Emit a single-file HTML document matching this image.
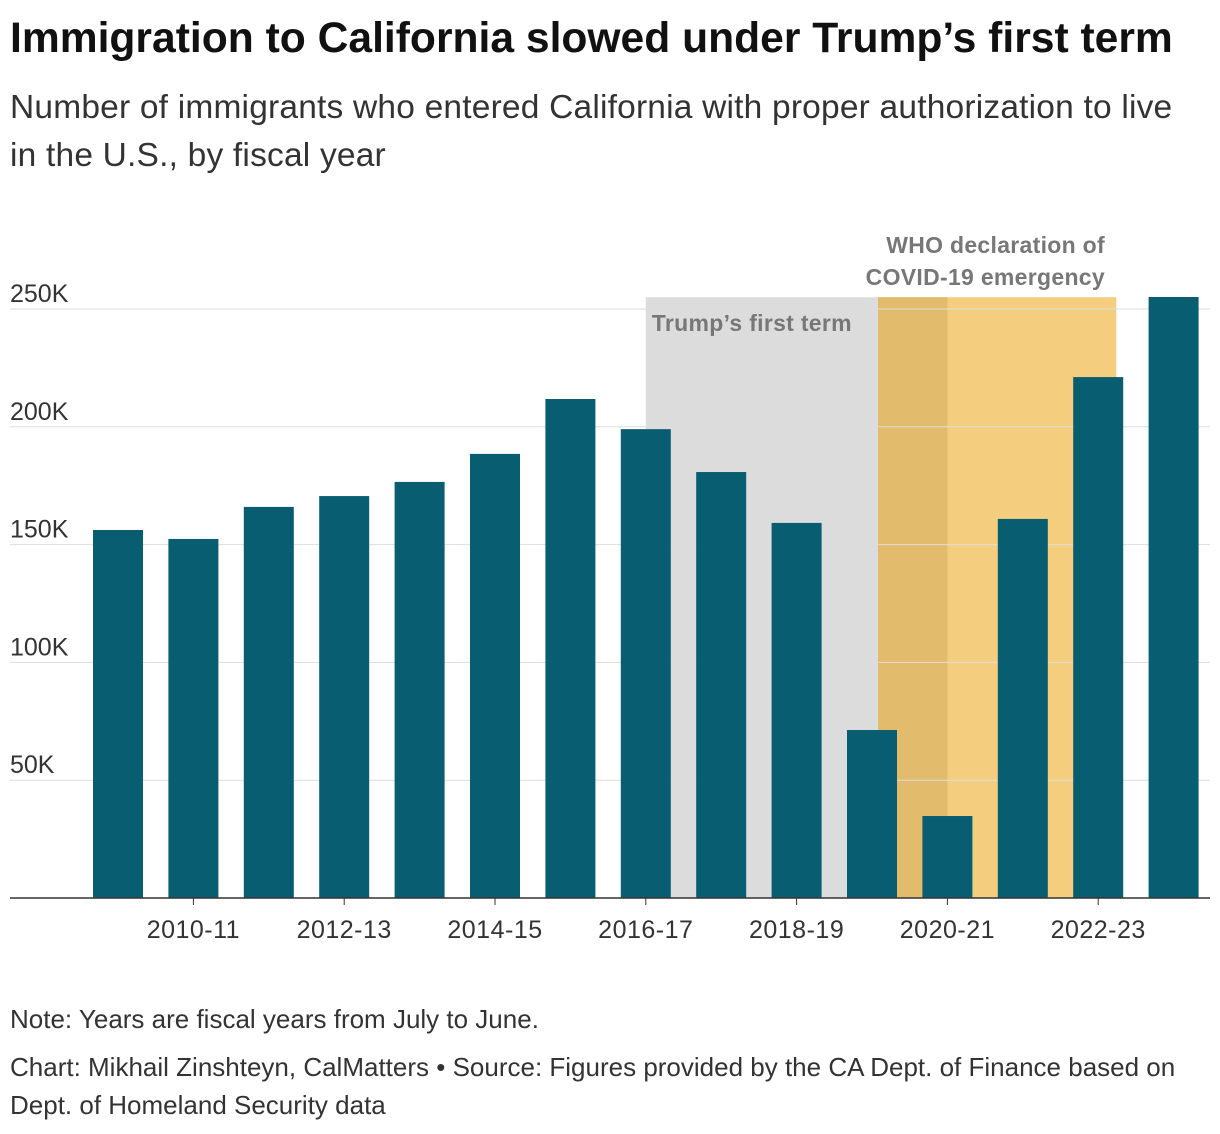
<!DOCTYPE html>
<html><head><meta charset="utf-8"><style>
body{margin:0;background:#fff;font-family:"Liberation Sans",sans-serif;color:#222;width:1220px;height:1134px;overflow:hidden}
#t{position:absolute;left:10px;top:14px;font-size:42.6px;font-weight:bold;letter-spacing:0;margin:0;color:#111;white-space:nowrap}
#s{position:absolute;left:10px;top:84px;font-size:33.5px;line-height:48px;width:1188px;color:#333;letter-spacing:0.2px}
.f{position:absolute;left:10px;font-size:26px;color:#333;line-height:38px;letter-spacing:0}
</style></head><body>
<h1 id="t">Immigration to California slowed under Trump’s first term</h1>
<div id="s">Number of immigrants who entered California with proper authorization to live in the U.S., by fiscal year</div>
<svg id="c" width="1220" height="1134" style="position:absolute;left:0;top:0"></svg>
<div class="f" style="top:1000px">Note: Years are fiscal years from July to June.</div>
<div class="f" style="top:1048px;width:1170px">Chart: Mikhail Zinshteyn, CalMatters • Source: Figures provided by the CA Dept. of Finance based on Dept. of Homeland Security data</div>
<script>
const years=["2009-10","2010-11","2011-12","2012-13","2013-14","2014-15","2015-16","2016-17","2017-18","2018-19","2019-20","2020-21","2021-22","2022-23","2023-24"];
const values=[156200,152400,166000,170600,176600,188500,211800,199000,180800,159200,71300,34800,160900,221100,255100];
const yTicks=[50000,100000,150000,200000,250000];
const yTickLabels=["50K","100K","150K","200K","250K"];
const xTickLabels=["2010-11","2012-13","2014-15","2016-17","2018-19","2020-21","2022-23"];
const xTickIdx=[1,3,5,7,9,11,13];
const trumpSpan=[7,10.08];
const covidSpan=[10.08,13.24];
const covidDark=[10.08,11.0];
const NS="http://www.w3.org/2000/svg",svg=document.getElementById('c');
const x=i=>118+75.4*i, y=v=>898-v*(589/250000), bw=50;
function el(t,a){const e=document.createElementNS(NS,t);for(const k in a)e.setAttribute(k,a[k]);svg.appendChild(e);return e;}
let r;
r=el('rect',{x:x(trumpSpan[0]),y:y(255000),width:x(trumpSpan[1])-x(trumpSpan[0]),height:898-y(255000),fill:'#dcdcdc'});

r=el('rect',{x:x(covidSpan[0]),y:y(255000),width:x(covidSpan[1])-x(covidSpan[0]),height:898-y(255000),fill:'#f4ce7e'});

r=el('rect',{x:x(covidDark[0]),y:y(255000),width:x(covidDark[1])-x(covidDark[0]),height:898-y(255000),fill:'#e2bb6c'});

yTicks.forEach((v,i)=>{
 const g=el('line',{x1:10,x2:1210,y1:y(v),y2:y(v),stroke:'#ddd','stroke-width':1});
 
 const t=el('text',{x:10,y:y(v)-7,'font-size':25,fill:'#333'});t.textContent=yTickLabels[i];
 
});
values.forEach((v,i)=>{
 const b=el('rect',{x:x(i)-bw/2,y:y(v),width:bw,height:898-y(v),fill:'#085e70'});
 
});
const base=el('line',{x1:10,x2:1210,y1:898,y2:898,stroke:'#333','stroke-width':1.5});

xTickIdx.forEach((idx,i)=>{
 const tk=el('line',{x1:x(idx),x2:x(idx),y1:898,y2:905,stroke:'#333'});
 
 const t=el('text',{x:x(idx),y:938,'font-size':25,'letter-spacing':0.5,fill:'#333','text-anchor':'middle'});t.textContent=xTickLabels[i];
 
});
let a=el('text',{x:x(trumpSpan[0])+6,y:331,'font-size':23,'letter-spacing':0.3,'font-weight':'bold',fill:'#777'});a.textContent="Trump’s first term";

a=el('text',{x:1105,y:253,'font-size':23,'letter-spacing':0.3,'font-weight':'bold',fill:'#777','text-anchor':'end'});a.textContent="WHO declaration of";

a=el('text',{x:1105,y:285,'font-size':23,'letter-spacing':0.3,'font-weight':'bold',fill:'#777','text-anchor':'end'});a.textContent="COVID-19 emergency";

</script>
</body></html>
